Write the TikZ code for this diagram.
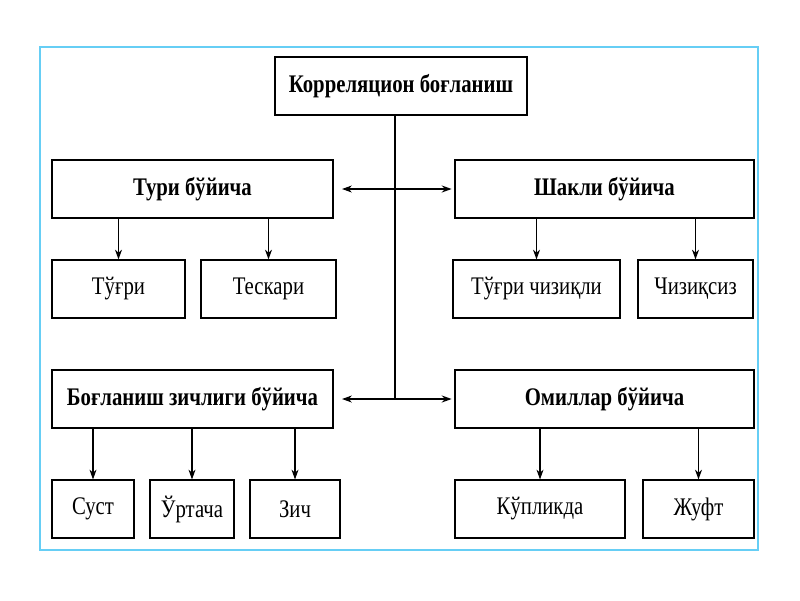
\documentclass[tikz,border=0pt]{standalone}
\usepackage{fontspec}
\setmainfont{Liberation Serif}[FakeStretch=0.82]
\usetikzlibrary{arrows.meta}
\usetikzlibrary{positioning}

\begin{document}
\begin{tikzpicture}[
  x=0.025cm, y=-0.025cm,
  box/.style={draw, thick, minimum height=1.45cm, inner sep=2pt, font=\fontsize{18}{20}\selectfont},
  head/.style={box, font=\fontsize{18}{20}\selectfont\bfseries},
  link/.style={-{Stealth[length=7pt,width=5pt]}, thick},
  both/.style={{Stealth[length=7pt,width=5pt]}-{Stealth[length=7pt,width=5pt]}, thick}
  ]
  \useasboundingbox [fill=white] (0,0) rectangle (800,600);
  \draw [cyan!60, thick] (40,47) rectangle (758,550);

  % heads:
  \node [head, minimum width=6.3cm] (korr) at (401,86) {Корреляцион боғланиш};
  \node [head, minimum width=7.025cm] (turi) at (192.5,189) {Тури бўйича};
  \node [head, minimum width=7.475cm] (shakli) at (604.5,189) {Шакли бўйича};
  \node [head, minimum width=7.025cm] (zich) at (192.5,399) {Боғланиш зичлиги бўйича};
  \node [head, minimum width=7.475cm] (omil) at (604.5,399) {Омиллар бўйича};

  % leaves:
  \node [box, minimum width=3.325cm] (tugri) at (118.5,289) {Тўғри};
  \node [box, minimum width=3.375cm] (teskari) at (268.5,289) {Тескари};
  \node [box, minimum width=4.175cm] (chiziqli) at (536.5,289) {Тўғри чизиқли};
  \node [box, minimum width=2.875cm] (chiziqsiz) at (695.5,289) {Чизиқсиз};
  \node [box, minimum width=2.05cm] (sust) at (93,509) {Суст};
  \node [box, minimum width=2.1cm] (urtacha) at (192,509) {Ўртача};
  \node [box, minimum width=2.25cm] (zichb) at (295,509) {Зич};
  \node [box, minimum width=4.25cm] (kuplik) at (540,509) {Кўпликда};
  \node [box, minimum width=2.775cm] (juft) at (698.5,509) {Жуфт};

  % connectors:
  \coordinate (stem) at (395,400);
  \draw [thick] (korr.south -| stem) -- (stem);
  \draw [both, shorten <=6pt, shorten >=2pt] (turi) -- (shakli);
  \draw [both, shorten <=6pt, shorten >=2pt] (zich) -- (omil);

  \draw [link, xshift=-0.09cm] (turi.south -| tugri) -- (tugri);
  \draw [link, xshift=-0.15cm] (turi.south -| teskari) -- (teskari);
  \draw [link, xshift=-0.24cm] (shakli.south -| chiziqli) -- (chiziqli);
  \draw [link, xshift=-0.09cm] (shakli.south -| chiziqsiz) -- (chiziqsiz);
  \draw [link] (zich.south -| sust) -- (sust);
  \draw [link] (zich.south -| urtacha) -- (urtacha);
  \draw [link, xshift=-0.1cm] (zich.south -| zichb) -- (zichb);
  \draw [link] (omil.south -| kuplik) -- (kuplik);
  \draw [link, xshift=-0.14cm] (omil.south -| juft) -- (juft);
\end{tikzpicture}
\end{document}
